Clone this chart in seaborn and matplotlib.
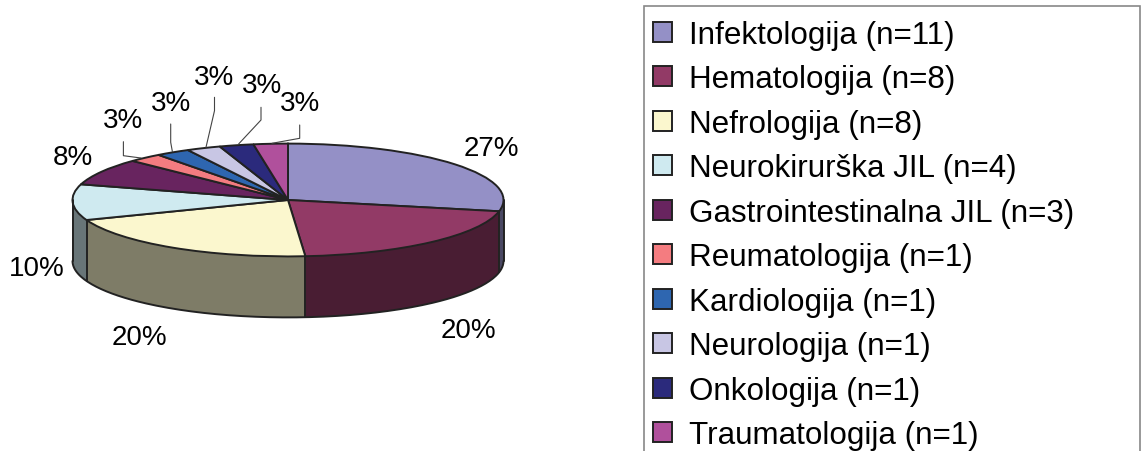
import numpy as np
import seaborn as sns
import matplotlib.pyplot as plt
from matplotlib.colors import to_rgb
from matplotlib.patches import Rectangle

departments = ["Infektologija (n=11)", "Hematologija (n=8)", "Nefrologija (n=8)",
               "Neurokirurška JIL (n=4)", "Gastrointestinalna JIL (n=3)", "Reumatologija (n=1)",
               "Kardiologija (n=1)", "Neurologija (n=1)", "Onkologija (n=1)", "Traumatologija (n=1)"]
counts = [11, 8, 8, 4, 3, 1, 1, 1, 1, 1]
percent_labels = ["27%", "20%", "20%", "10%", "8%", "3%", "3%", "3%", "3%", "3%"]
slice_colors = ["#9490c6", "#923a66", "#fbf7ce", "#cfeaf0", "#68245f",
                "#f47c80", "#2e66b0", "#c8c6e4", "#2b2a7c", "#b0509c"]

sns.set_theme(style="white")
plt.rcParams["font.family"] = ["Liberation Sans", "DejaVu Sans"]

W, H = 1141, 452
line = "#222222"
cx, cy, rx, ry, depth = 288, 201, 215.5, 56.4, 61

fig = plt.figure(figsize=(W / 100, H / 100), dpi=100)
ax = fig.add_axes([0, 0, 1, 1])
palette = sns.color_palette(slice_colors)
side_colors = [tuple(np.array(to_rgb(c)) * 0.5) for c in palette]
pie_args = dict(startangle=90, counterclock=False, radius=1)

# stack dark copies to get the thick side of the pie
drop = depth / ry
for d in np.linspace(drop, 0, int(depth) + 1):
    ax.pie(counts, colors=side_colors, center=(0, -d),
           wedgeprops=dict(linewidth=0.8, edgecolor="none"), **pie_args)
wedges, _ = ax.pie(counts, colors=palette, center=(0, 0),
                   wedgeprops=dict(linewidth=1.4, edgecolor=line), **pie_args)

# outline of the side, and the edges between visible slices
arc = np.radians(np.linspace(180, 360, 200))
ax.plot(np.cos(arc), np.sin(arc) - drop, color=line, lw=1.4)
for a in [180, 360]:
    ax.plot([np.cos(np.radians(a))] * 2, [0, -drop], color=line, lw=1.4)
for w in wedges:
    t = np.radians(w.theta2 if w.theta2 < 360 else w.theta1)
    if np.sin(t) < 0:
        ax.plot([np.cos(t)] * 2, [np.sin(t), np.sin(t) - drop], color=line, lw=1.4)

ax.set_aspect("auto")
ax.set_xlim((0 - cx) / rx, (W - cx) / rx)
ax.set_ylim((cy - H) / ry, (cy - 0) / ry)
ax.axis("off")

# overlay in pixel coordinates for labels and leader lines
top = fig.add_axes([0, 0, 1, 1], facecolor="none")
top.set_xlim(0, W)
top.set_ylim(H, 0)
top.axis("off")

label_pos = [(491, 149), (468, 331), (139, 338), (37, 269), (73, 158),
             (123, 121), (171, 104), (214, 78), (262, 86), (300, 104)]
for txt, (x, y) in zip(percent_labels, label_pos):
    top.text(x, y, txt, fontsize=20, color="black", ha="center", va="center")

leaders = [[(123.4, 142.7), (123.4, 156.7), (141, 159)],
           [(170.7, 125), (170.7, 143.3), (172.4, 152.7)],
           [(214.5, 98.3), (214.5, 111.7), (206, 148.3)],
           [(261, 108.3), (261, 121), (238.6, 145)],
           [(299.7, 126), (299.7, 139.3), (272, 144.3)]]
for pts in leaders:
    xs, ys = zip(*pts)
    top.plot(xs, ys, color="#444444", lw=0.8)

# the box runs off the bottom of the picture, so it is drawn apart from the legend
top.add_patch(Rectangle((643.5, 7), 496.5, 460, facecolor="white", edgecolor="#888888", lw=1.2))
top.legend(wedges, departments, loc="upper left",
           bbox_to_anchor=(643.5 / W, 1 - 11.5 / H, 497 / W, 0), bbox_transform=fig.transFigure,
           mode="expand", borderaxespad=0, fontsize=22.6, frameon=False,
           handlelength=0.6, handleheight=0.6, handletextpad=0.55, labelspacing=0.462,
           borderpad=0.3, labelcolor="black")

fig.savefig("out.png", dpi=100)
